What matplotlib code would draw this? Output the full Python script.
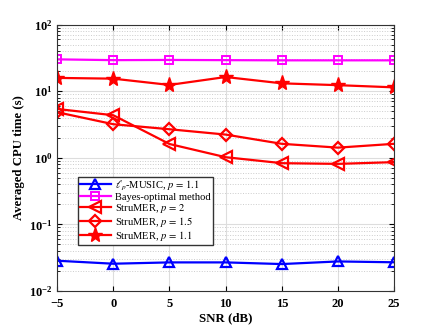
import numpy as np
import matplotlib
matplotlib.use('Agg')
from matplotlib import pyplot as plt

plt.rcParams['font.family'] = ['Liberation Serif', 'DejaVu Serif']
plt.rcParams['mathtext.fontset'] = 'stix'

snr = [-5, 0, 5, 10, 15, 20, 25]
lp_music = [0.0285, 0.0257, 0.0269, 0.0269, 0.0254, 0.0278, 0.0270]
bayes = [30.0, 29.2, 29.4, 29.2, 29.0, 29.0, 29.0]
strumer_p2 = [5.4, 4.35, 1.61, 1.02, 0.83, 0.81, 0.86]
strumer_p15 = [4.83, 3.19, 2.68, 2.23, 1.62, 1.42, 1.62]
strumer_p11 = [15.8, 15.4, 12.4, 16.3, 13.1, 12.3, 11.4]

fig = plt.figure(figsize=(4.36, 3.27), dpi=100)
ax = fig.add_axes([0.131, 0.110, 0.773, 0.815])

lw = 1.6
ax.plot(snr, lp_music, color='#0000ff', marker='^', markersize=7, markerfacecolor='none',
        markeredgewidth=1.6, linewidth=lw, label=r'$\ell_p$-MUSIC, $p\,=\,1.1$')
ax.plot(snr, bayes, color='#ff00ff', marker='s', markersize=6, markerfacecolor='none',
        markeredgewidth=1.4, linewidth=lw, label='Bayes-optimal method')
ax.plot(snr, strumer_p2, color='#ff0000', marker='<', markersize=8, markerfacecolor='none',
        markeredgewidth=1.6, linewidth=lw, label=r'StruMER, $p\,=\,2$')
ax.plot(snr, strumer_p15, color='#ff0000', marker='D', markersize=6, markerfacecolor='none',
        markeredgewidth=1.6, linewidth=lw, label=r'StruMER, $p\,=\,1.5$')
ax.plot(snr, strumer_p11, color='#ff0000', marker='*', markersize=11,
        linewidth=lw, label=r'StruMER, $p\,=\,1.1$')

ax.set_yscale('log')
ax.set_ylim(1e-2, 1e2)
ax.set_xlim(-5, 25)
ax.set_xticks(snr)
ax.set_yticks([1e-2, 1e-1, 1e0, 1e1, 1e2])
ax.tick_params(axis='both', which='both', direction='in', labelsize=9, top=True, right=True)
ax.tick_params(axis='x', pad=5)
for lab in ax.get_xticklabels() + ax.get_yticklabels():
    lab.set_fontweight('bold')

ax.grid(True, which='major', color='#dddddd', linewidth=0.8)
ax.grid(True, which='minor', axis='y', color='#cccccc', linestyle=':', linewidth=0.7)
ax.set_axisbelow(True)
for s in ax.spines.values():
    s.set_color('#333333')
    s.set_linewidth(0.8)

ax.set_xlabel('SNR (dB)', fontsize=9.3, fontweight='bold', labelpad=2)
ax.set_ylabel('Averaged CPU time (s)', fontsize=9.2, fontweight='bold', labelpad=1)
ax.yaxis.set_label_coords(-0.095, 0.5)

ax.legend(loc='upper left', bbox_to_anchor=(0.062, 0.428), borderaxespad=0,
          fontsize=7.6, fancybox=False, edgecolor='#333333', framealpha=1,
          handlelength=3, labelspacing=0.0, borderpad=0.15, handletextpad=0.4)

fig.savefig('out.png', dpi=100)
